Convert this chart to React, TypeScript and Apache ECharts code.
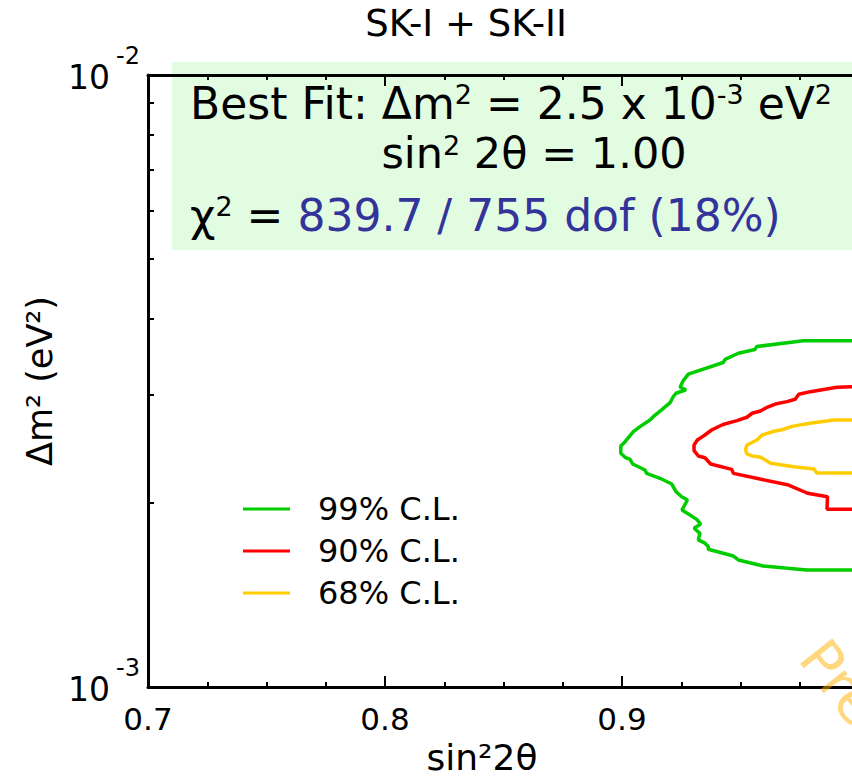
import React, { useEffect, useRef } from "react";
import * as echarts from "echarts";

// ---------- data ----------
const titleText = "SK-I + SK-II";
const xAxisName = "sin²2θ";
const yAxisName = "Δm² (eV²)";
const legendNames = ["99% C.L.", "90% C.L.", "68% C.L."];
const contourColors = ["#00cc00", "#ff0000", "#ffcc00"];
const yMinorTicks = [0.002, 0.003, 0.004, 0.005, 0.006, 0.007, 0.008, 0.009];
const xRange = [0.7, 1.0];
const yRange = [0.001, 0.01];

// contour points: [sin²2θ, Δm² in units of 1e-3 eV²]
const cl99: [number, number][] = [
  [1.0, 3.68], [0.9765, 3.68], [0.9568, 3.6], [0.9561, 3.56], [0.9491, 3.51],
  [0.9435, 3.43], [0.9427, 3.39], [0.928, 3.245], [0.9257, 3.16], [0.9245, 3.09],
  [0.927, 3.06], [0.9228, 3.02], [0.9216, 2.98], [0.9203, 2.915], [0.9167, 2.836],
  [0.9132, 2.765], [0.9118, 2.731], [0.9076, 2.663], [0.9048, 2.613], [0.9013, 2.517],
  [0.8995, 2.477], [0.8995, 2.409], [0.9013, 2.373], [0.9034, 2.355], [0.9045, 2.314],
  [0.9097, 2.262], [0.9104, 2.234], [0.916, 2.193], [0.921, 2.146], [0.9228, 2.085],
  [0.9252, 2.046], [0.9276, 2.021], [0.9253, 1.946], [0.9287, 1.91], [0.9315, 1.879],
  [0.9332, 1.846], [0.9304, 1.817], [0.9329, 1.783], [0.9322, 1.739], [0.935, 1.718],
  [0.9364, 1.696], [0.9364, 1.679], [0.947, 1.637], [0.9491, 1.613], [0.9596, 1.577],
  [0.9779, 1.553], [1.0, 1.553],
];
const cl90: [number, number][] = [
  [1.0, 3.096], [0.9907, 3.089], [0.9795, 3.038], [0.9746, 3.008], [0.9731, 2.952],
  [0.9696, 2.926], [0.9647, 2.9], [0.9609, 2.86], [0.9584, 2.825], [0.9549, 2.801],
  [0.9527, 2.759], [0.9485, 2.724], [0.9426, 2.685], [0.9378, 2.63], [0.935, 2.581],
  [0.9318, 2.533], [0.9304, 2.486], [0.9304, 2.433], [0.9322, 2.385], [0.935, 2.369],
  [0.9374, 2.314], [0.9463, 2.268], [0.947, 2.234], [0.9582, 2.187], [0.9703, 2.138],
  [0.9783, 2.073], [0.9867, 2.046], [0.9865, 1.951], [1.0, 1.951],
];
const cl68: [number, number][] = [
  [1.0, 2.731], [0.9895, 2.731], [0.9793, 2.697], [0.9717, 2.666], [0.9679, 2.635],
  [0.9637, 2.615], [0.9591, 2.581], [0.957, 2.533], [0.9527, 2.486], [0.9521, 2.439],
  [0.9527, 2.403], [0.9549, 2.385], [0.9586, 2.373], [0.9627, 2.32], [0.9724, 2.291],
  [0.981, 2.271], [0.9822, 2.237], [1.0, 2.237],
];
const contours = [cl99, cl90, cl68];

const bestFitLine1 = "Best Fit: Δm{sup|2} = 2.5 x 10{sup|-3} eV{sup|2}";
const bestFitLine2 = "sin{sup|2} 2θ = 1.00";
const chi2Prefix = "χ{sup|2} = ";
const chi2Value = "839.7 / 755 dof (18%)";
const watermark = "Preliminary";

const FONT = "DejaVu Sans";

export default function App() {
  const ref = useRef<HTMLDivElement>(null);
  useEffect(() => {
    document.body.style.margin = "0";
    document.body.style.overflow = "hidden";
    if (!ref.current) return;
    const chart = echarts.init(ref.current, null, { renderer: "svg" });
    const axisLineStyle = { color: "#000", width: 3 };
    const tickLine = { color: "#000", width: 2 };
    const boxRich = {
      sup: { fontSize: 27, fontFamily: FONT, verticalAlign: "top", fill: "#000" },
      blue: { fontSize: 44, fontFamily: FONT, fill: "#333399" },
    };
    const option: any = {
      animation: false,
      backgroundColor: "#fff",
      title: {
        text: titleText,
        left: 461,
        top: 0,
        textAlign: "center",
        textStyle: { fontFamily: FONT, fontSize: 37, fontWeight: "normal", color: "#000" },
      },
      grid: { left: 148, top: 75, width: 711, height: 612, outerBoundsMode: "none", containLabel: false },
      legend: {
        orient: "vertical",
        left: 243,
        top: 492,
        padding: 0,
        icon: "rect",
        itemWidth: 47,
        itemHeight: 3,
        itemGap: 8,
        data: legendNames,
        textStyle: { fontFamily: FONT, fontSize: 32, color: "#000", padding: [0, 0, 0, 23], lineHeight: 34 },
      },
      xAxis: [
        {
          type: "value",
          position: "bottom",
          min: xRange[0],
          max: xRange[1],
          interval: 0.1,
          axisLine: { lineStyle: axisLineStyle },
          axisTick: { inside: true, length: 11, lineStyle: tickLine },
          minorTick: { show: true, splitNumber: 4, length: 5, lineStyle: tickLine },
          splitLine: { show: false },
          axisLabel: {
            margin: 16,
            fontFamily: FONT,
            fontSize: 31,
            color: "#000",
            showMaxLabel: false,
            formatter: (v: number) => v.toFixed(1),
          },
          name: xAxisName,
          nameLocation: "middle",
          nameGap: 52,
          nameTextStyle: { fontFamily: FONT, fontSize: 36, color: "#000", padding: [0, 43, 0, 0] },
        },
        {
          type: "value",
          position: "top",
          min: xRange[0],
          max: xRange[1],
          interval: 0.1,
          axisLine: { lineStyle: axisLineStyle },
          axisTick: { inside: true, length: 11, lineStyle: tickLine },
          minorTick: { show: true, splitNumber: 4, length: 5, lineStyle: tickLine },
          splitLine: { show: false },
          axisLabel: { show: false },
        },
      ],
      yAxis: {
        type: "log",
        logBase: 10,
        min: yRange[0],
        max: yRange[1],
        axisLine: { lineStyle: axisLineStyle },
        axisTick: { inside: true, length: 6, lineStyle: tickLine, customValues: yMinorTicks },
        splitLine: { show: false },
        axisLabel: {
          margin: 8,
          formatter: (v: number) => "{b|10}{s|" + Math.round(Math.log10(v)) + "}",
          rich: {
            b: { fontSize: 33, fontFamily: FONT, color: "#000", padding: [17, 0, 13, 0] },
            s: { fontSize: 24, fontFamily: FONT, color: "#000", verticalAlign: "top", padding: [0, 0, 0, 6] },
          },
        },
        name: yAxisName,
        nameLocation: "middle",
        nameRotate: 90,
        nameGap: 88,
        nameTextStyle: { fontFamily: FONT, fontSize: 35, color: "#000" },
      },
      series: contours.map((pts, i) => ({
        type: "line",
        name: legendNames[i],
        data: pts.map(([s, d]) => [s, d * 1e-3]),
        showSymbol: false,
        symbol: "none",
        clip: true,
        lineStyle: { color: contourColors[i], width: 3.5 },
        itemStyle: { color: contourColors[i] },
        z: 3,
      })),
      graphic: [
        {
          type: "rect",
          z: -10,
          shape: { x: 172, y: 62, width: 700, height: 188 },
          style: { fill: "#e2fce2" },
        },
        {
          type: "text",
          x: 190,
          y: 103,
          z: 5,
          style: {
            text: bestFitLine1,
            fontFamily: FONT,
            fontSize: 44,
            fill: "#000",
            align: "left",
            verticalAlign: "middle",
            textAlign: "left",
            textVerticalAlign: "middle",
            rich: boxRich,
          },
        },
        {
          type: "text",
          x: 534,
          y: 153,
          z: 5,
          style: {
            text: bestFitLine2,
            fontFamily: FONT,
            fontSize: 43,
            fill: "#000",
            align: "center",
            verticalAlign: "middle",
            textAlign: "center",
            textVerticalAlign: "middle",
            rich: boxRich,
          },
        },
        {
          type: "text",
          x: 190,
          y: 215,
          z: 5,
          style: {
            text: chi2Prefix + "{blue|" + chi2Value + "}",
            fontFamily: FONT,
            fontSize: 44,
            fill: "#000",
            align: "left",
            verticalAlign: "middle",
            textAlign: "left",
            textVerticalAlign: "middle",
            rich: boxRich,
          },
        },
        {
          type: "text",
          x: 834,
          y: 630,
          rotation: -0.9,
          z: 6,
          style: {
            text: watermark,
            fontFamily: FONT,
            fontSize: 56,
            fill: "rgba(255,176,0,0.5)",
            align: "left",
            verticalAlign: "top",
            textAlign: "left",
            textVerticalAlign: "top",
          },
        },
      ],
    };
    chart.setOption(option);
    return () => chart.dispose();
  }, []);
  return <div ref={ref} style={{ width: 852, height: 780 }} />;
}
